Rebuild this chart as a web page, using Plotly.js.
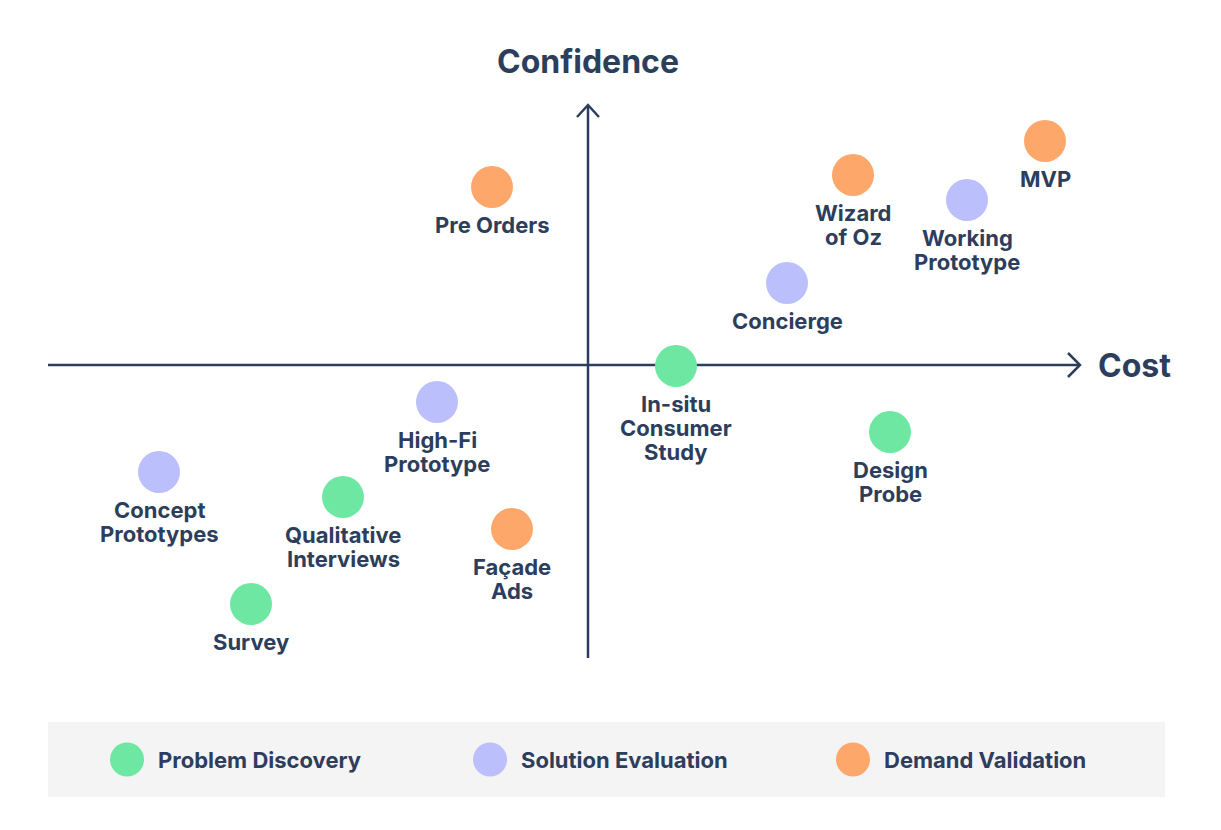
<!DOCTYPE html>
<html>
<head>
<meta charset="utf-8">
<script src="https://cdn.plot.ly/plotly-3.0.1.min.js"></script>
<style>html,body{margin:0;padding:0;background:#fff;}#chart{width:1221px;height:830px;}</style>
</head>
<body>
<div id="chart"></div>
<script>
// Categories (legend groups)
const categories = ["Problem Discovery", "Solution Evaluation", "Demand Validation"];
const categoryColors = ["#6ee7a3", "#bbbffb", "#fda76b"];

// Methods, grouped by category
const problemDiscoveryLabels = ["In-situ<br>Consumer<br>Study", "Design<br>Probe", "Qualitative<br>Interviews", "Survey"];
const problemDiscoveryCost = [1.76, 6.04, -4.9, -6.74];
const problemDiscoveryConfidence = [-0.02, -1.34, -2.64, -4.78];

const solutionEvaluationLabels = ["Working<br>Prototype", "Concierge", "High-Fi<br>Prototype", "Concept<br>Prototypes"];
const solutionEvaluationCost = [7.58, 3.98, -3.02, -8.58];
const solutionEvaluationConfidence = [3.3, 1.64, -0.74, -2.14];

const demandValidationLabels = ["Pre Orders", "Wizard<br>of Oz", "MVP", "Façade<br>Ads"];
const demandValidationCost = [-1.92, 5.3, 9.14, -1.52];
const demandValidationConfidence = [3.56, 3.8, 4.48, -3.28];

const xAxisLabel = "Cost";
const yAxisLabel = "Confidence";

const ink = "#2d3e5c";
const FONT = "Inter, 'Noto Sans', sans-serif";
const labelFont = {family: FONT, size: 22, color: ink, weight: 700};

const groups = [
  [problemDiscoveryLabels, problemDiscoveryCost, problemDiscoveryConfidence],
  [solutionEvaluationLabels, solutionEvaluationCost, solutionEvaluationConfidence],
  [demandValidationLabels, demandValidationCost, demandValidationConfidence]
];

const traces = groups.map((g, i) => ({
  type: "scatter",
  mode: "markers",
  name: categories[i],
  x: g[1], y: g[2],
  marker: {size: 42, color: categoryColors[i], line: {width: 0}},
  cliponaxis: false,
  hoverinfo: "skip",
  showlegend: false,
  xaxis: "x", yaxis: "y"
}));

const annotations = [];
// Point labels: one annotation per text line, stacked below each marker
groups.forEach(g => {
  g[0].forEach((lab, j) => {
    lab.split("<br>").forEach((line, k) => {
      annotations.push({
        xref: "x", yref: "y", x: g[1][j], y: g[2][j],
        text: line, showarrow: false, xanchor: "center", yanchor: "middle",
        yshift: -(38 + 24 * k),
        font: labelFont
      });
    });
  });
});

// Legend row drawn on its own small axes
traces.push({
  type: "scatter",
  mode: "markers",
  x: [0, 1, 2],
  y: [0, 0, 0],
  marker: {size: 34, color: categoryColors, line: {width: 0}},
  hoverinfo: "skip",
  showlegend: false,
  cliponaxis: false,
  xaxis: "x2", yaxis: "y2"
});

categories.forEach((c, i) => annotations.push({
  xref: "x2", yref: "y2", x: i, y: 0,
  text: c, showarrow: false, xanchor: "left", yanchor: "middle",
  xshift: 29,
  font: labelFont
}));
annotations.push({
  xref: "x", yref: "y", x: 0, y: 6.08, text: yAxisLabel, showarrow: false,
  xanchor: "center", yanchor: "middle",
  font: {family: FONT, size: 32, color: ink, weight: 700}
});
annotations.push({
  xref: "x", yref: "y", x: 10.16, y: 0, text: xAxisLabel, showarrow: false,
  xanchor: "left", yanchor: "middle",
  font: {family: FONT, size: 32, color: ink, weight: 700}
});

const axLine = {color: ink, width: 2.5};
const shapes = [
  {type: "rect", xref: "paper", yref: "paper", x0: 48/1221, x1: 1165/1221, y0: 1-797/830, y1: 1-722/830,
   fillcolor: "#f4f4f4", line: {width: 0}, layer: "below"},
  {type: "line", xref: "x", yref: "y", x0: -10.8, x1: 9.84, y0: 0, y1: 0, line: axLine, layer: "below"},
  {type: "line", xref: "x", yref: "y", x0: 0, x1: 0, y0: -5.86, y1: 5.2, line: axLine, layer: "below"},
  {type: "path", xref: "x", yref: "y", path: "M 9.6,0.24 L 9.84,0 L 9.6,-0.24", line: axLine, layer: "below"},
  {type: "path", xref: "x", yref: "y", path: "M -0.22,4.96 L 0,5.2 L 0.22,4.96", line: axLine, layer: "below"}
];

const layout = {
  width: 1221, height: 830,
  margin: {l: 0, r: 0, t: 0, b: 0},
  paper_bgcolor: "#ffffff", plot_bgcolor: "rgba(0,0,0,0)",
  showlegend: false,
  xaxis: {domain: [0, 1], range: [-11.76, 12.66], visible: false, fixedrange: true},
  yaxis: {domain: [0, 1], range: [-9.3, 7.3], visible: false, fixedrange: true},
  xaxis2: {domain: [0, 1], range: [-0.35, 3.0138], visible: false, fixedrange: true, anchor: "y2"},
  yaxis2: {domain: [1-797/830, 1-722/830], range: [-1, 1], visible: false, fixedrange: true, anchor: "x2"},
  shapes: shapes,
  annotations: annotations,
  font: {family: FONT, color: ink}
};

Plotly.newPlot("chart", traces, layout, {displayModeBar: false, staticPlot: true});
</script>
</body>
</html>
